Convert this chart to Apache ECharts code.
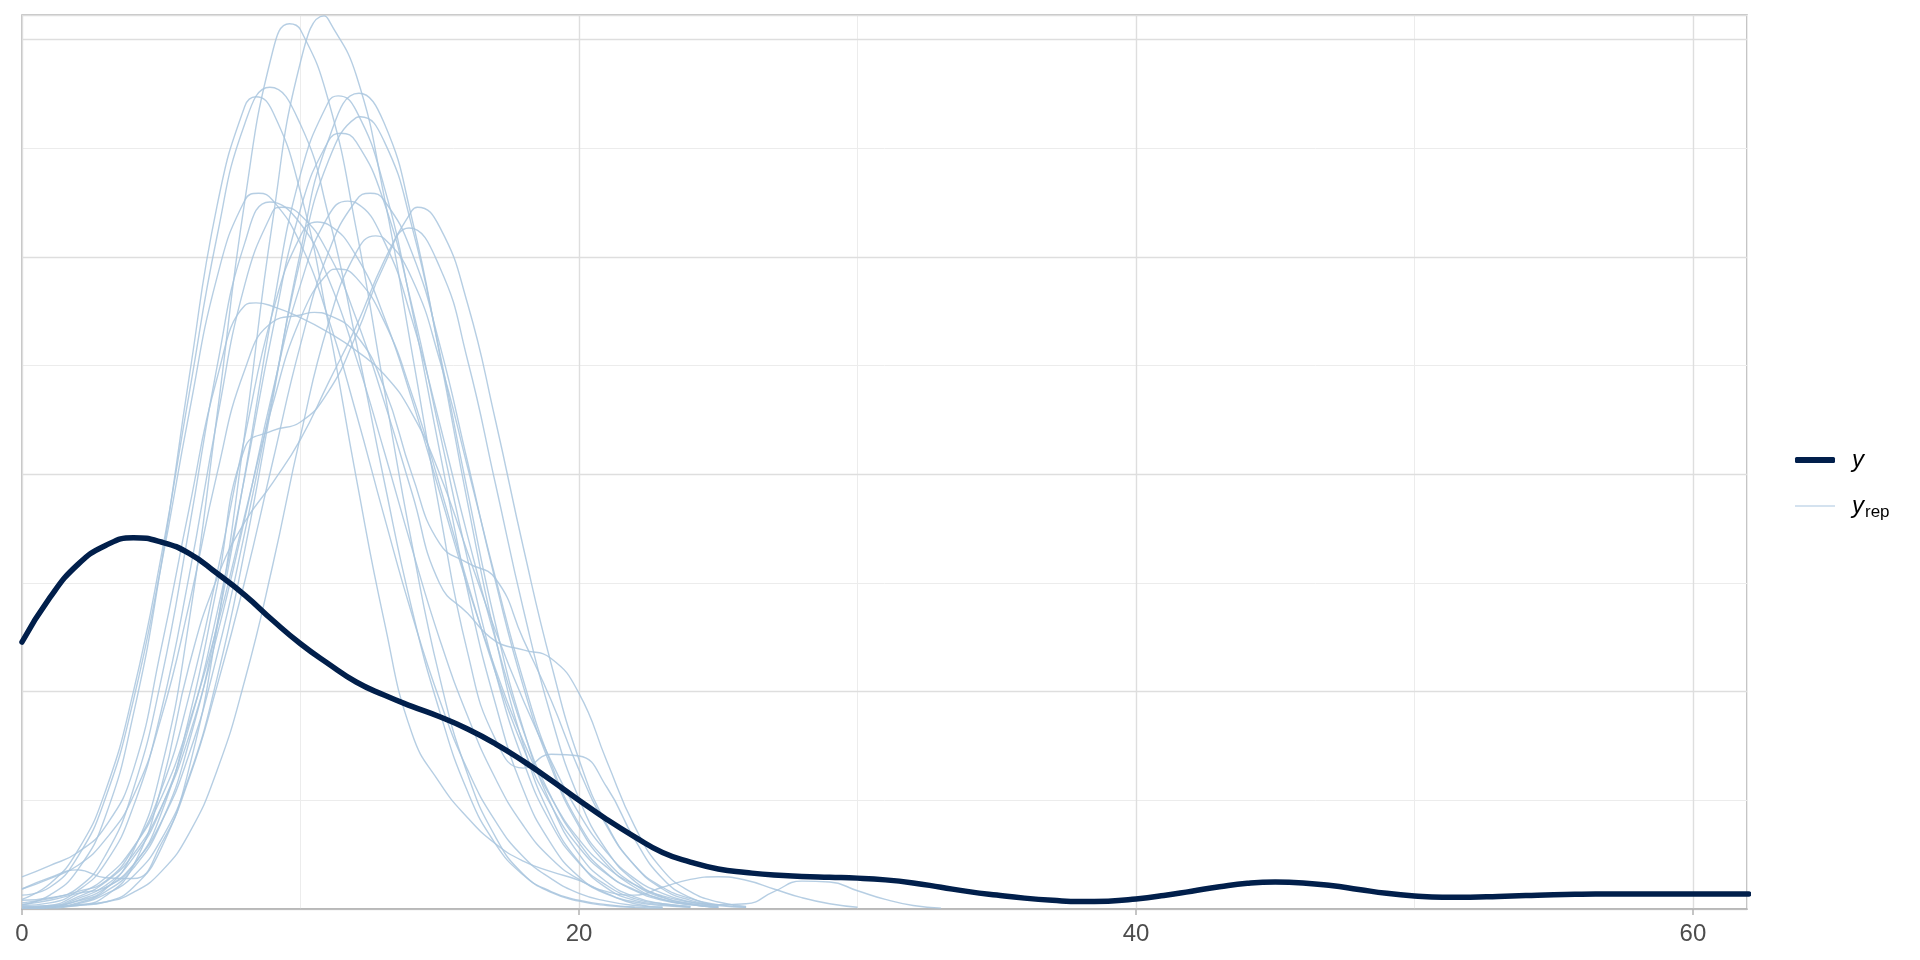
<!DOCTYPE html>
<html>
<head>
<meta charset="utf-8">
<script src="https://cdn.jsdelivr.net/npm/echarts@6/dist/echarts.min.js"></script>
<style>html,body{margin:0;padding:0;background:#fff}#c{width:1920px;height:960px}</style>
</head>
<body>
<div id="c"></div>
<script>
// x grid (data units) on which the densities were read
const densX = [0,1,2,3,4,5,6,7,8,9,10,11,12,13,14,15,16,17,18,19,20,21,22,23,24,25,26,27,28,29,30,31,32,33,34,35,36,37,38,39,40,41,42,43,44,45,46,47,48,49,50,51,52,53,54,55,56,57,58,59,60,61,62];
const xTickValues = [0, 20, 40, 60];
const xTickLabels = ['0', '20', '40', '60'];
const legendLabels = ['y', 'y_rep'];

// observed density y (x 1000)
const yObs = [30.7,35.8,39.6,41.8,42.7,42.2,40.9,38.6,36.1,33.2,30.5,28.2,26.1,24.6,23.3,22.1,20.7,19.0,17.0,14.8,12.5,10.3,8.3,6.5,5.4,4.6,4.2,3.9,3.75,3.65,3.55,3.35,3.0,2.5,2.0,1.6,1.25,1.0,0.85,0.9,1.15,1.55,2.05,2.55,2.95,3.1,3.0,2.7,2.25,1.8,1.5,1.35,1.35,1.45,1.55,1.65,1.7,1.72,1.73,1.73,1.72,1.72,1.72];

// replicated densities y_rep (x 1000), read on densX
const yRep01 = [0.3,0.4,0.9,2.3,6.7,16.1,33.1,56.7,81.4,98.6,101.1,93.0,78.2,59.9,42.0,26.6,15.5,8.3,4.0,2.0,1.0,0.5,0.2,0.1];
const yRep02 = [0.1,0.2,0.4,0.8,2.5,7.0,16.2,32.3,54.7,79.1,97.4,102.3,95.9,82.0,64.1,45.7,29.5,19.5,16.2,17.8,17.6,14.0,8.0,3.5,1.3,0.4];
const yRep03 = [1.1,2.9,6.7,13.6,25.0,40.6,59.2,77.3,90.3,94.4,90.2,79.8,65.2,49.3,34.5,22.7,13.5,7.5,3.9,1.9,0.9,0.4,0.2];
const yRep04 = [0.5,1.6,4.5,10.7,22.4,39.6,61.1,80.8,92.3,91.7,82.4,67.3,49.6,33.2,20.2,14.5,10.5,7.5,5.5,4.3,3.3,1.8,0.6,0.2];
const yRep05 = [0.1,0.2,0.7,2.0,4.7,9.9,19.2,32.7,49.9,68.9,84.5,92.8,91.8,83.1,69.0,52.6,36.6,23.6,13.7,7.5,3.7,1.7,0.8,0.4,0.2];
const yRep06 = [0.1,0.1,0.6,1.7,3.8,8.0,15.2,26.5,41.3,58.6,75.6,88.4,93.6,90.4,79.4,63.7,46.7,31.2,18.9,10.5,5.4,2.4,1.0,0.5,0.2];
const yRep07 = [0.1,0.2,1.0,2.4,5.1,10.0,17.8,29.1,43.3,59.1,74.7,86.0,91.0,88.3,78.5,64.0,48.0,32.8,20.7,12.0,6.3,3.1,1.4,0.6,0.3];
const yRep08 = [0.1,0.2,1.2,2.7,5.9,11.6,21.0,34.0,49.7,66.5,80.5,88.3,88.2,81.3,69.4,54.8,40.2,27.2,17.0,9.8,5.3,2.7,1.2,0.6,0.3];
const yRep09 = [1.6,2.5,6.0,12.8,24.0,39.5,57.0,72.6,81.5,81.5,76.5,67.9,57.0,45.2,33.9,24.0,16.0,10.1,6.0,3.5,1.8,0.9,0.4,0.2];
const yRep10 = [1.0,1.3,2.4,6.2,13.8,26.4,43.7,62.3,76.6,81.1,78.8,72.5,63.4,52.7,41.5,31.0,22.2,15.0,9.6,5.8,3.4,2.0,1.6,2.5,3.4,3.7,3.3,2.3,1.3,0.6,0.2];
const yRep11 = [0.4,0.7,2.1,5.3,11.8,22.8,38.3,56.2,71.8,80.2,79.8,75.4,67.9,58.4,47.9,37.4,34.0,30.8,29.8,28.8,24.8,17.0,9.5,4.5,2.0,0.8,0.3];
const yRep12 = [2.3,3.6,4.5,3.6,3.5,7.5,15.0,25.6,37.7,51.4,64.9,75.5,81.5,81.5,75.5,64.9,51.4,37.7,25.6,16.3,9.5,5.1,2.5,1.1,0.5,0.2];
const yRep13 = [0.2,0.3,1.4,3.1,6.3,11.7,19.9,31.4,44.9,59.5,71.8,79.7,81.2,76.8,67.8,55.8,42.9,31.0,20.5,12.9,7.6,4.1,2.1,1.0,0.5,0.2];
const yRep14 = [0.7,1.2,2.0,3.2,7.0,13.7,24.5,38.5,54.3,68.6,77.4,78.7,75.1,68.1,58.6,47.9,37.1,27.6,19.3,12.8,8.0,4.8,2.8,1.5,0.8,0.5,0.6,2.0,3.2,3.1,2.1,1.1,0.4,0.1];
const yRep15 = [0.1,0.2,0.4,1.5,5.0,14.0,28.0,38.0,44.5,49.0,54.0,60.5,67.0,74.5,80.3,78.4,69.6,56.2,41.6,28.2,17.2,9.7,5.0,2.3,1.0,0.4,0.2];
const yRep16 = [0.5,1.0,1.8,2.5,5.0,11.0,22.0,37.0,53.0,55.0,56.0,59.5,66.0,74.0,78.1,73.8,63.1,48.9,34.5,22.1,12.7,6.7,3.2,1.4,0.6,0.2];
const yRep17 = [0.1,0.2,0.5,0.8,1.9,4.3,8.7,15.9,26.3,39.5,54.4,67.3,75.5,77.1,72.5,63.1,50.8,38.1,26.3,16.7,9.8,5.5,2.8,1.3,0.6,0.2];
const yRep18 = [0.2,0.4,1.7,3.6,7.1,12.8,21.4,32.4,45.3,58.0,67.9,73.2,72.6,67.6,59.2,48.7,37.5,27.2,18.5,11.9,7.1,4.0,2.2,1.1,0.5,0.2];
const yRep19 = [3.7,5.0,6.5,9.5,16.0,30.0,46.0,61.0,69.4,69.3,68.0,66.3,64.2,61.5,57.0,50.0,41.0,32.0,24.0,17.0,11.0,6.5,3.5,1.8,0.8,0.3];
const yRep20 = [2.3,3.5,5.0,8.0,13.0,22.0,35.0,50.0,62.0,67.5,68.3,68.3,66.0,60.0,50.0,42.0,39.8,38.0,31.0,24.0,16.0,9.5,5.0,2.5,1.2,0.5,0.2];

// peak of each y_rep curve (x, density x 1000)
const repPeakX = [9.6, 10.85, 8.9, 8.4, 11.35, 12.1, 12.15, 11.45, 8.5, 8.9, 9.3, 12.5, 11.7, 10.6, 14.2, 13.9, 12.7, 11.35, 8.4, 10.5];
const repPeakY = [101.8, 102.7, 94.5, 93.4, 93.5, 93.8, 91.1, 89.2, 82.3, 81.3, 80.7, 82.3, 81.4, 79.0, 80.7, 78.3, 77.4, 73.6, 69.7, 68.6];

const yRepList = [yRep01,yRep02,yRep03,yRep04,yRep05,yRep06,yRep07,yRep08,yRep09,yRep10,
                  yRep11,yRep12,yRep13,yRep14,yRep15,yRep16,yRep17,yRep18,yRep19,yRep20];

const X_MAX = 61.94;
const Y_MAX = 102.8;

const toPairs = vals => vals.map((v, i) => [densX[i], v]);
const withPeak = (vals, px, py) => {
  const pts = toPairs(vals).filter(p => Math.abs(p[0] - px) > 0.12);
  pts.push([px, py]);
  pts.sort((a, b) => a[0] - b[0]);
  return pts;
};

const chart = echarts.init(document.getElementById('c'), null, {renderer: 'canvas'});

const series = yRepList.map((vals, k) => ({
  name: legendLabels[1],
  type: 'line',
  data: withPeak(vals, repPeakX[k], repPeakY[k]),
  symbol: 'none',
  showSymbol: false,
  smooth: 0.5,
  silent: true,
  z: 2,
  itemStyle: {color: '#b3cde0'},
  lineStyle: {color: '#a9c6de', width: 1.4, opacity: 0.85}
}));
series.push({
  name: legendLabels[0],
  type: 'line',
  data: toPairs(yObs),
  symbol: 'none',
  showSymbol: false,
  smooth: 0.5,
  silent: true,
  z: 3,
  itemStyle: {color: '#011f4b'},
  lineStyle: {color: '#011f4b', width: 5.5, cap: 'round', join: 'round'}
});

const hidden = {axisLine: {show: false}, axisTick: {show: false}, axisLabel: {show: false}};

chart.setOption({
  animation: false,
  backgroundColor: '#ffffff',
  grid: {left: 22, right: 173, top: 15, bottom: 51, containLabel: false, outerBoundsMode: 'none',
         show: true, borderColor: '#b3b3b3', borderWidth: 1.5, backgroundColor: 'transparent'},
  xAxis: [
    {type: 'value', min: 0, max: X_MAX, interval: 20, z: 1,
     axisLine: {show: true, onZero: false, lineStyle: {color: '#b3b3b3', width: 1.5}},
     axisTick: {show: true, length: 6, customValues: xTickValues, lineStyle: {color: '#b3b3b3', width: 1.5}},
     axisLabel: {show: true, customValues: xTickValues, margin: 13, fontSize: 24, color: '#4d4d4d',
                 fontFamily: 'Liberation Sans',
                 formatter: v => { const k = xTickValues.indexOf(v); return k >= 0 ? xTickLabels[k] : ''; }},
     splitLine: {show: true, lineStyle: {color: '#dedede', width: 1.4}}},
    Object.assign({type: 'value', min: 0, max: X_MAX, interval: 10, z: 0, position: 'top',
     splitLine: {show: true, lineStyle: {color: '#ececec', width: 1}}}, hidden)
  ],
  yAxis: [
    Object.assign({type: 'value', min: 0, max: Y_MAX, interval: 25, z: 1,
     splitLine: {show: true, lineStyle: {color: '#dedede', width: 1.4}}}, hidden),
    Object.assign({type: 'value', min: 0, max: Y_MAX, interval: 12.5, z: 0, position: 'right',
     splitLine: {show: true, lineStyle: {color: '#ececec', width: 1}}}, hidden)
  ],
  legend: [
    {data: [legendLabels[0]], orient: 'vertical', left: 1790, top: 443, selectedMode: false,
     icon: 'roundRect', itemWidth: 40, itemHeight: 6, itemStyle: {color: '#011f4b'},
     formatter: () => '{i|y}',
     textStyle: {rich: {i: {fontStyle: 'italic', fontSize: 24, fontFamily: 'Liberation Sans', color: '#000', padding: [0,0,0,12]}}}},
    {data: [legendLabels[1]], orient: 'vertical', left: 1790, top: 489, selectedMode: false,
     icon: 'rect', itemWidth: 40, itemHeight: 1.5, itemStyle: {color: '#c6d9ea'},
     formatter: () => '{i|y}{s|rep}',
     textStyle: {rich: {i: {fontStyle: 'italic', fontSize: 24, fontFamily: 'Liberation Sans', color: '#000', padding: [0,0,0,12]},
                        s: {fontSize: 17, fontFamily: 'Liberation Sans', color: '#000', padding: [12,0,0,1]}}}}
  ],
  series: series
});
</script>
</body>
</html>
